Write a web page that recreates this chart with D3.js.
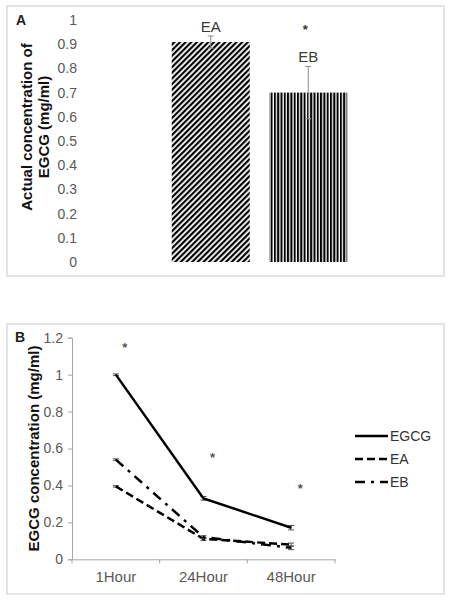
<!DOCTYPE html>
<html>
<head>
<meta charset="utf-8">
<script src="https://cdn.jsdelivr.net/npm/d3@7"></script>
<style>
  html, body { margin: 0; padding: 0; background: #fff; }
  text { font-family: "Liberation Sans", Arial, sans-serif; }
</style>
</head>
<body>
<svg id="chart" width="452" height="600"></svg>
<script>
// ---------- Panel A data ----------
const barCategories = ["EA", "EB"];
const barValues = [0.909, 0.70];
const barErrors = [0.025, 0.108];
const barTicks = [0, 0.1, 0.2, 0.3, 0.4, 0.5, 0.6, 0.7, 0.8, 0.9, 1];
const barTickLabels = ["0", "0.1", "0.2", "0.3", "0.4", "0.5", "0.6", "0.7", "0.8", "0.9", "1"];
const barStarLevel = 0.975;   // "*" above EB

// ---------- Panel B data ----------
const timeCategories = ["1Hour", "24Hour", "48Hour"];
const seriesNames = ["EGCG", "EA", "EB"];
const egcgValues = [1.0, 0.33, 0.171];
const eaValues = [0.395, 0.11, 0.08];
const ebValues = [0.54, 0.12, 0.062];
const egcgErrors = [0.004, 0.01, 0.012];
const eaErrors = [0.004, 0.008, 0.008];
const ebErrors = [0.004, 0.008, 0.01];
const starLevels = [1.165, 0.571, 0.403];
const lineTicks = [0, 0.2, 0.4, 0.6, 0.8, 1, 1.2];
const lineTickLabels = ["0", "0.2", "0.4", "0.6", "0.8", "1", "1.2"];

const svg = d3.select("#chart");
svg.append("rect").attr("width", 452).attr("height", 600).attr("fill", "#fff");

const defs = svg.append("defs");
// diagonal hatch for EA
const pA = defs.append("pattern").attr("id", "hatchDiag")
  .attr("patternUnits", "userSpaceOnUse").attr("width", 4).attr("height", 4)
  .attr("patternTransform", "rotate(45)");
pA.append("rect").attr("width", 4).attr("height", 4).attr("fill", "#fff");
pA.append("rect").attr("width", 2.2).attr("height", 4).attr("fill", "#000");
// vertical hatch for EB
const pB = defs.append("pattern").attr("id", "hatchVert")
  .attr("patternUnits", "userSpaceOnUse").attr("width", 3.3).attr("height", 10);
pB.append("rect").attr("width", 3.3).attr("height", 10).attr("fill", "#fff");
pB.append("rect").attr("width", 2).attr("height", 10).attr("fill", "#000");

// panel frames
svg.append("rect").attr("x", 7).attr("y", 6).attr("width", 437).attr("height", 270)
  .attr("fill", "none").attr("stroke", "#dcdcdc").attr("stroke-width", 1.5);
svg.append("rect").attr("x", 7).attr("y", 324).attr("width", 437).attr("height", 270)
  .attr("fill", "none").attr("stroke", "#dcdcdc").attr("stroke-width", 1.5);

// ================= Panel A =================
const yA = d3.scaleLinear().domain([0, 1]).range([262, 20]);
const xA = d3.scaleBand().domain(barCategories).range([162, 357])
  .paddingInner(0.2).paddingOuter(0.1);

const axA = svg.append("g").attr("transform", "translate(80,0)")
  .call(d3.axisLeft(yA).tickValues(barTicks)
    .tickFormat((d, i) => barTickLabels[i]).tickSize(0).tickPadding(3));
axA.select(".domain").remove();
axA.selectAll("text").attr("font-size", 14).attr("fill", "#595959")
  .style("font-family", "'Liberation Sans', Arial, sans-serif");

const patterns = ["url(#hatchDiag)", "url(#hatchVert)"];
svg.append("g").selectAll("rect").data(barCategories).join("rect")
  .attr("x", d => xA(d)).attr("width", xA.bandwidth())
  .attr("y", (d, i) => yA(barValues[i]))
  .attr("height", (d, i) => yA(0) - yA(barValues[i]))
  .attr("fill", (d, i) => patterns[i]);

// error bars A
const ebA = svg.append("g").attr("stroke", "#8c8c8c").attr("stroke-width", 1);
barCategories.forEach((c, i) => {
  const cx = xA(c) + xA.bandwidth() / 2;
  const lo = yA(barValues[i] - barErrors[i]), hi = yA(barValues[i] + barErrors[i]);
  ebA.append("line").attr("x1", cx).attr("x2", cx).attr("y1", lo).attr("y2", hi);
  ebA.append("line").attr("x1", cx - 3).attr("x2", cx + 3).attr("y1", hi).attr("y2", hi);
  ebA.append("line").attr("x1", cx - 3).attr("x2", cx + 3).attr("y1", lo).attr("y2", lo);
  svg.append("text").attr("x", cx).attr("y", hi - 4)
    .attr("text-anchor", "middle").attr("font-size", 15).attr("fill", "#3a3a3a")
    .text(c);
});
svg.append("text").attr("x", xA("EB") + xA.bandwidth() / 2 - 3).attr("y", yA(barStarLevel) + 8)
  .attr("text-anchor", "middle").attr("font-size", 13).attr("font-weight", "bold")
  .attr("fill", "#333").text("*");

svg.append("text").attr("x", 16).attr("y", 25).attr("font-size", 14)
  .attr("font-weight", "bold").attr("fill", "#222").text("A");
const tA = svg.append("text").attr("transform", "translate(0,127) rotate(-90)")
  .attr("text-anchor", "middle").attr("font-size", 15).attr("font-weight", "bold").attr("fill", "#111");
tA.append("tspan").attr("x", 0).attr("y", 32).text("Actual concentration of");
tA.append("tspan").attr("x", 0).attr("y", 49).text("EGCG (mg/ml)");

// ================= Panel B =================
const yB = d3.scaleLinear().domain([0, 1.2]).range([559.3, 337.7]);
const xB = d3.scaleBand().domain(timeCategories).range([72, 335]);

const axisColor = "#a6a6a6";
const ayB = svg.append("g").attr("transform", "translate(72,0)")
  .call(d3.axisLeft(yB).tickValues(lineTicks)
    .tickFormat((d, i) => lineTickLabels[i]).tickSize(4).tickPadding(5));
ayB.select(".domain").attr("stroke", axisColor);
ayB.selectAll("line").attr("stroke", axisColor);
ayB.selectAll("text").attr("font-size", 14).attr("fill", "#595959")
  .style("font-family", "'Liberation Sans', Arial, sans-serif");

const axB = svg.append("g").attr("transform", "translate(0,559.3)")
  .call(d3.axisBottom(xB).tickSize(0).tickPadding(12));
axB.select(".domain").attr("stroke", axisColor);
axB.selectAll("text").attr("font-size", 15).attr("fill", "#595959")
  .style("font-family", "'Liberation Sans', Arial, sans-serif");
const boundaries = timeCategories.map(c => xB(c)).concat([xB.range()[1]]);
axB.selectAll(".bnd").data(boundaries).join("line").attr("class", "bnd")
  .attr("x1", d => d).attr("x2", d => d).attr("y1", 0).attr("y2", 4)
  .attr("stroke", axisColor);

const seriesValues = [egcgValues, eaValues, ebValues];
const seriesErrors = [egcgErrors, eaErrors, ebErrors];
const dashes = [null, "8,4", "10,6,3,6"];
const cxB = c => xB(c) + xB.bandwidth() / 2;
const line = d3.line().x((d, i) => cxB(timeCategories[i])).y(d => yB(d));

seriesNames.forEach((name, s) => {
  const g = svg.append("g").attr("stroke", "#555").attr("stroke-width", 1);
  timeCategories.forEach((c, i) => {
    const v = seriesValues[s][i], e = seriesErrors[s][i];
    const x = cxB(c);
    g.append("line").attr("x1", x).attr("x2", x).attr("y1", yB(v - e)).attr("y2", yB(v + e));
    g.append("line").attr("x1", x - 3).attr("x2", x + 3).attr("y1", yB(v + e)).attr("y2", yB(v + e));
    g.append("line").attr("x1", x - 3).attr("x2", x + 3).attr("y1", yB(v - e)).attr("y2", yB(v - e));
  });
  svg.append("path").datum(seriesValues[s]).attr("d", line)
    .attr("fill", "none").attr("stroke", "#000").attr("stroke-width", 2.5)
    .attr("stroke-dasharray", dashes[s]);
});

// stars
svg.append("g").selectAll("text").data(starLevels).join("text")
  .attr("x", (d, i) => cxB(timeCategories[i]) + 9)
  .attr("y", d => yB(d) + 8)
  .attr("text-anchor", "middle").attr("font-size", 13).attr("font-weight", "bold")
  .attr("fill", "#555").text("*");

// legend
const leg = svg.append("g");
seriesNames.forEach((name, s) => {
  const y = 436 + s * 23;
  leg.append("line").attr("x1", 355).attr("x2", 388).attr("y1", y).attr("y2", y)
    .attr("stroke", "#000").attr("stroke-width", 2.5).attr("stroke-dasharray", dashes[s]);
  leg.append("text").attr("x", 390).attr("y", y + 5).attr("font-size", 14)
    .attr("fill", "#333").text(name);
});

svg.append("text").attr("x", 15).attr("y", 342).attr("font-size", 14)
  .attr("font-weight", "bold").attr("fill", "#222").text("B");
svg.append("text").attr("transform", "translate(38.5,448.5) rotate(-90)")
  .attr("text-anchor", "middle").attr("font-size", 15).attr("font-weight", "bold")
  .attr("fill", "#111").text("EGCG concentration (mg/ml)");
</script>
</body>
</html>
